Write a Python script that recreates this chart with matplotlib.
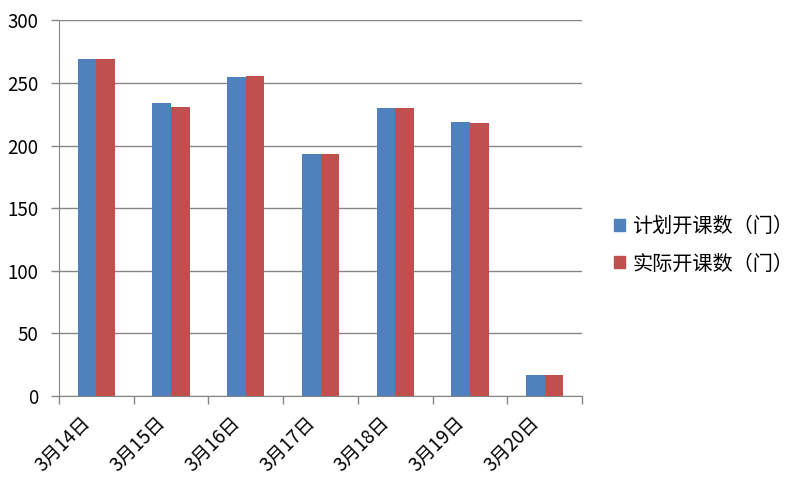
import numpy as np
import matplotlib.pyplot as plt
import matplotlib.transforms as mtransforms
from matplotlib.patches import Patch

plt.rcParams['font.family'] = ['Noto Sans CJK SC', 'DejaVu Sans']

dates = ['3月14日', '3月15日', '3月16日', '3月17日', '3月18日', '3月19日', '3月20日']
planned = [269, 234, 255, 193, 230, 219, 17]
actual = [269, 231, 256, 193, 230, 218, 17]
series_names = ['计划开课数（门）', '实际开课数（门）']

blue = '#4F81BD'
red = '#C0504D'
grey = '#868686'

fig = plt.figure(figsize=(8.11, 4.88), dpi=100)
ax = fig.add_axes([0.0727, 0.1885, 0.645, 0.7695])

x = np.arange(len(dates))
w = 0.25
ax.bar(x - w / 2, planned, width=w, color=blue, zorder=3)
ax.bar(x + w / 2, actual, width=w, color=red, zorder=3)

ax.set_xlim(-0.5, len(dates) - 0.5)
ax.set_ylim(0, 300)
ax.set_yticks(range(0, 301, 50))
ax.yaxis.grid(True, color=grey, linewidth=1, zorder=0)

# category labels in the middle, tick marks on the boundaries
ax.set_xticks(x)
ax.set_xticklabels(dates, rotation=45, ha='right', rotation_mode='anchor', fontsize=13.5)
ax.set_xticks(np.arange(-0.5, len(dates)), minor=True)
ax.tick_params(axis='x', which='major', length=0, pad=12)
ax.tick_params(axis='x', which='minor', length=6, color=grey, width=1)
ax.tick_params(axis='y', length=6, color=grey, width=1, labelsize=13.5, pad=9)

# excel puts the rotated labels a bit left of the category centre
shift = mtransforms.ScaledTranslation(-16 / 100, 0, fig.dpi_scale_trans)
for lbl in ax.get_xticklabels():
    lbl.set_transform(lbl.get_transform() + shift)

for side in ['top', 'right']:
    ax.spines[side].set_visible(False)
for side in ['left', 'bottom']:
    ax.spines[side].set_color(grey)

handles = [Patch(color=blue), Patch(color=red)]
fig.legend(handles, series_names, loc='center left', bbox_to_anchor=(0.757, 0.497),
           frameon=False, fontsize=14.5, handlelength=0.55, handleheight=0.55,
           handletextpad=0.35, labelspacing=0.8, borderpad=0.0, borderaxespad=0.0)

fig.savefig('out.png', dpi=100)
